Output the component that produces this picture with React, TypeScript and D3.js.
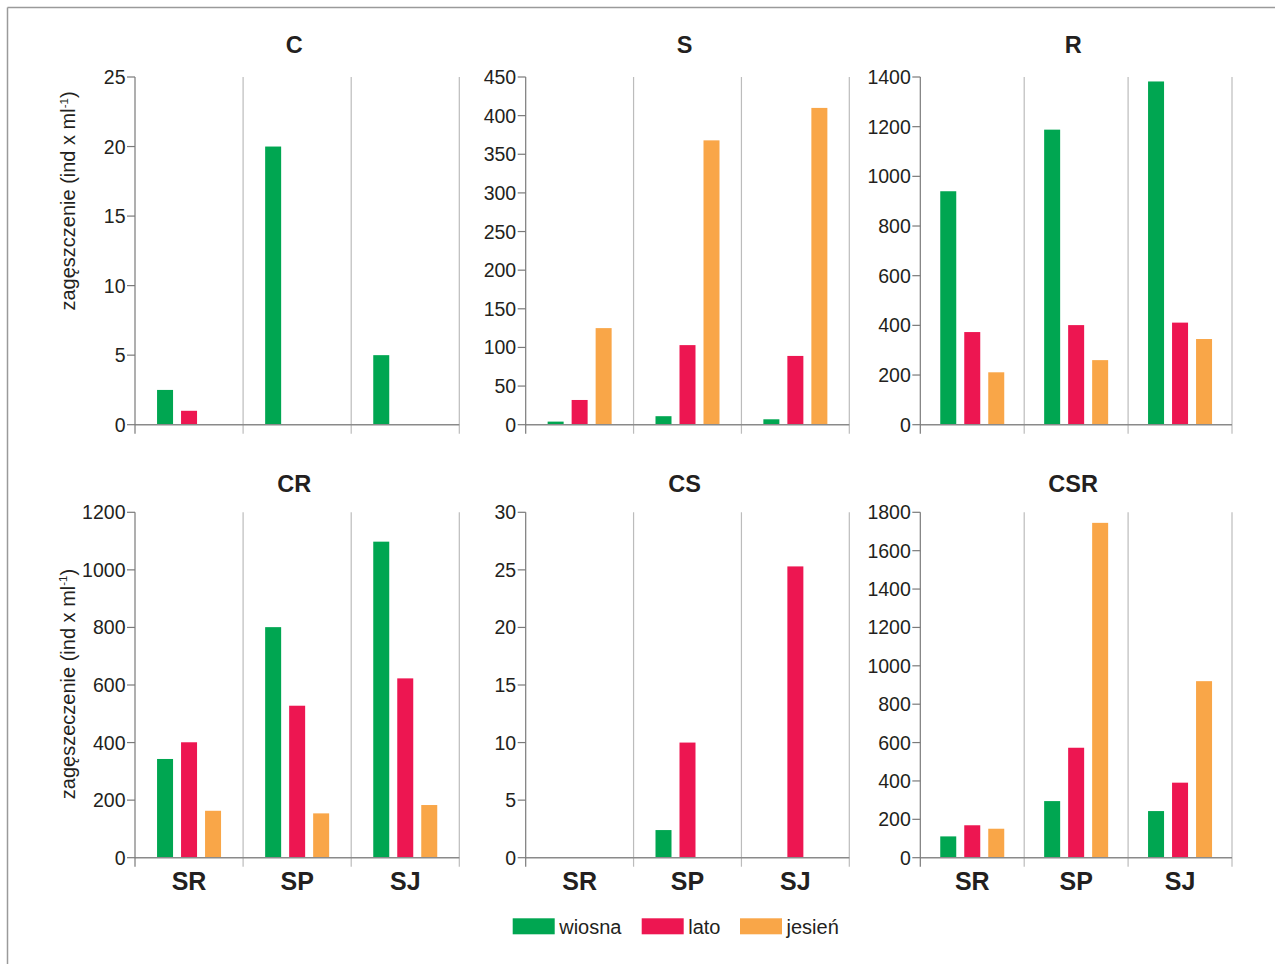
import React from "react";
import * as d3 from "d3";

const categories = ["SR", "SP", "SJ"];
const seasons = ["wiosna", "lato", "jesień"];
const seasonColors = ["#00a651", "#ed1651", "#f9a648"];

const panelTitles = ["C", "S", "R", "CR", "CS", "CSR"];
const panelMax = [25, 450, 1400, 1200, 30, 1800];
const panelStep = [5, 50, 200, 200, 5, 200];

// values[category][season]
const valuesC = [[2.5, 1, 0], [20, 0, 0], [5, 0, 0]];
const valuesS = [[4, 32, 125], [11, 103, 368], [7, 89, 410]];
const valuesR = [[940, 373, 211], [1188, 401, 260], [1382, 411, 345]];
const valuesCR = [[343, 401, 163], [801, 528, 154], [1098, 623, 183]];
const valuesCS = [[0, 0, 0], [2.4, 10, 0], [0, 25.3, 0]];
const valuesCSR = [[111, 169, 151], [295, 573, 1745], [243, 391, 920]];
const panelValues = [valuesC, valuesS, valuesR, valuesCR, valuesCS, valuesCSR];

const yLabelTop = "zagęszczenie (ind x ml";
const yLabelBottom = "zagęszeczenie (ind x ml";

const FONT = "'Liberation Sans', Arial, sans-serif";
const TEXT = "#231f20";

const colLeft = [135, 525.7, 920.3];
const colWidth = [324.3, 323.6, 311.7];
const rowTop = [77, 512.3];
const rowZero = [424.7, 857.7];

function Panel({ idx }: { idx: number }) {
  const col = idx % 3;
  const row = Math.floor(idx / 3);
  const x0 = colLeft[col];
  const w = colWidth[col];
  const yTop = rowTop[row];
  const y0 = rowZero[row];
  const max = panelMax[idx];
  const y = d3.scaleLinear().domain([0, max]).range([y0, yTop]);
  const x = d3.scaleBand().domain(categories).range([x0, x0 + w]).padding(0);
  const inner = d3.scaleBand().domain(seasons).range([-32, 32]).paddingInner(1 / 3).paddingOuter(0);
  const ticks = d3.range(0, max + 1e-9, panelStep[idx]);
  const vals = panelValues[idx];
  const bottomTick = y0 + 9;
  return (
    <g>
      {categories.map((c) => (
        <line key={"d" + c} x1={(x(c) as number) + x.bandwidth()} x2={(x(c) as number) + x.bandwidth()} y1={yTop} y2={bottomTick} stroke="#bcbcbc" strokeWidth={1.2} />
      ))}
      {categories.map((c, ci) =>
        seasons.map((s, si) => {
          const v = vals[ci][si];
          if (!v) return null;
          const cx = (x(c) as number) + x.bandwidth() / 2;
          return (
            <rect key={c + s} x={cx + (inner(s) as number)} width={inner.bandwidth()} y={y(v)} height={y0 - y(v)} fill={seasonColors[si]} />
          );
        })
      )}
      <line x1={x0} x2={x0 + w} y1={y0} y2={y0} stroke="#8a8a8a" strokeWidth={1.4} />
      <line x1={x0} x2={x0} y1={yTop} y2={bottomTick} stroke="#7a7a7a" strokeWidth={1.2} />
      {ticks.map((t) => (
        <g key={t}>
          <line x1={x0 - 8} x2={x0} y1={y(t)} y2={y(t)} stroke="#7a7a7a" strokeWidth={1.2} />
          <text x={x0 - 9.5} y={y(t)} dy="0.36em" textAnchor="end" fontFamily={FONT} fontSize={19.5} fill={TEXT}>
            {t}
          </text>
        </g>
      ))}
      <text x={x0 + w / 2 - 3} y={row === 0 ? 52.5 : 492} textAnchor="middle" fontFamily={FONT} fontWeight="bold" fontSize={23.5} fill={TEXT}>
        {panelTitles[idx]}
      </text>
      {row === 1 &&
        categories.map((c) => (
          <text key={"l" + c} x={(x(c) as number) + x.bandwidth() / 2} y={889.5} textAnchor="middle" fontFamily={FONT} fontWeight="bold" fontSize={25} fill={TEXT}>
            {c}
          </text>
        ))}
    </g>
  );
}

function YLabel({ cx, cy, label }: { cx: number; cy: number; label: string }) {
  return (
    <text transform={`translate(${cx},${cy}) rotate(-90)`} textAnchor="middle" fontFamily={FONT} fontSize={20} fill={TEXT}>
      {label}
      <tspan fontSize={11.5} dy={-7.5}>-1</tspan>
      <tspan dy={7.5}>)</tspan>
    </text>
  );
}

export default function App() {
  const legendX = [512.7, 641.7, 740];
  return (
    <svg width={1275} height={964} style={{ position: "absolute", left: 0, top: 0, background: "#fff" }}>
      <rect x={0} y={0} width={1275} height={964} fill="#fff" />
      <line x1={7.5} x2={1275} y1={7.5} y2={7.5} stroke="#9a9a9a" strokeWidth={1.5} />
      <line x1={7.5} x2={7.5} y1={7.5} y2={964} stroke="#9a9a9a" strokeWidth={1.5} />
      {panelTitles.map((_, i) => (
        <Panel key={i} idx={i} />
      ))}
      <YLabel cx={75} cy={201} label={yLabelTop} />
      <YLabel cx={74.5} cy={684} label={yLabelBottom} />
      {seasons.map((s, i) => (
        <g key={s}>
          <rect x={legendX[i]} y={918.3} width={42} height={16} fill={seasonColors[i]} />
          <text x={legendX[i] + 46.5} y={934} fontFamily={FONT} fontSize={20} fill={TEXT}>
            {s}
          </text>
        </g>
      ))}
    </svg>
  );
}
